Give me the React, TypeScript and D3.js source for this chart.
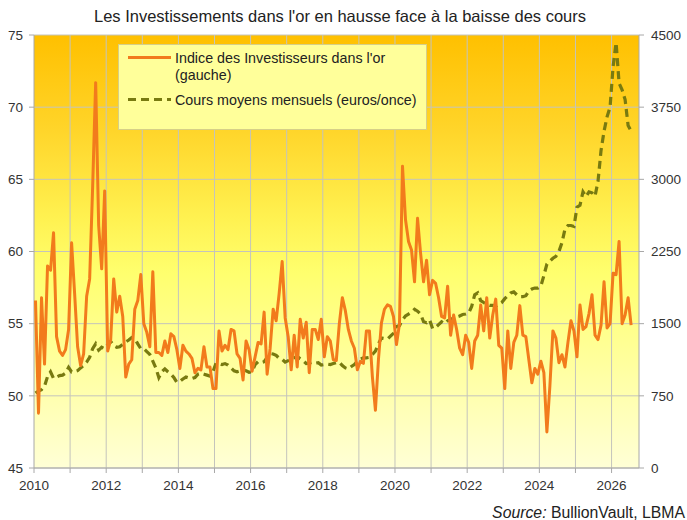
import { useEffect } from "react";
import * as d3 from "d3";

const width = 687;
const height = 520;
const margin = { top: 35, right: 48, bottom: 52, left: 34 };

// premier mois de la série : janvier 2010, un point par mois
const startYear = 2010;
const endYear = 2026.76;

// Indice des Investisseurs dans l'or (axe gauche)
const investorIndex = [
  56.6, 48.8, 56.8, 52.2, 59.0, 58.7, 61.3, 54.1, 53.1, 52.8, 53.2, 54.6,
  60.6, 57.1, 53.4, 52.1, 52.9, 56.9, 58.1, 64.5, 71.7, 61.8, 58.8, 64.2,
  53.1, 53.9, 58.1, 55.8, 56.9, 55.5, 51.3, 52.2, 52.5, 56.0, 56.6, 58.4,
  55.0, 54.4, 53.4, 58.6, 53.0, 53.0, 52.8, 53.8, 53.0, 54.3, 54.1, 53.2,
  51.9, 53.5, 53.1, 52.9, 52.6, 51.6, 51.9, 51.8, 53.4, 52.0, 52.0, 50.5,
  50.5, 54.5, 53.1, 53.5, 53.2, 54.6, 54.5, 52.9, 52.6, 51.1, 53.8, 53.2,
  51.7, 52.7, 53.7, 53.6, 55.8, 51.5, 53.3, 56.0, 55.2, 57.1, 59.3, 55.4,
  54.1, 51.8, 54.2, 52.0, 55.3, 54.0, 55.1, 51.6, 54.6, 54.6, 53.9, 55.3,
  52.7, 54.1, 53.8, 52.5, 52.45, 55.0, 56.8, 55.9, 54.6, 53.8, 53.3, 51.8,
  52.4, 52.25, 54.5, 54.5, 51.3, 49.0, 52.5, 55.05, 56.0, 56.3, 56.2, 55.5,
  53.55, 55.0, 65.9, 62.2, 60.7, 60.1, 57.9, 62.3, 59.9, 57.9, 59.4, 57.0,
  58.0, 57.8, 56.8, 55.5, 55.4, 57.6, 54.2, 55.6, 54.6, 53.3, 52.85, 54.2,
  53.7, 51.9, 53.8, 54.2, 56.3, 54.5, 56.8, 54.0, 55.6, 56.7, 53.5, 53.3,
  50.5, 54.5, 51.9, 53.7, 54.2, 56.25, 54.2, 54.1, 52.5, 50.9, 51.9, 51.5,
  52.4, 51.6, 47.5, 50.7, 54.5, 54.0, 52.3, 52.85, 52.0, 53.7, 55.2, 54.5,
  52.7, 56.3, 54.6, 54.8, 55.7, 57.0, 54.2, 53.9, 54.9, 57.9, 54.7, 55.0,
  58.5, 58.4, 60.7, 55.0, 55.6, 56.8, 54.9,
];

// Cours moyens mensuels en euros/once (axe droit)
const goldPriceEur = [
  779, 800, 815, 850, 950, 1000, 930, 945, 960, 965, 985, 1045,
  998, 1002, 1012, 1040, 1065, 1100, 1150, 1240, 1290, 1225, 1255, 1240,
  1280, 1315, 1270, 1255, 1260, 1285, 1310, 1330, 1355, 1345, 1290, 1240,
  1240, 1210, 1180, 1110, 1040, 940, 1000, 1030, 1000, 975, 940, 890,
  900, 925, 945, 935, 930, 940, 975, 985, 975, 965, 955, 1000,
  1090, 1085, 1075, 1085, 1070, 1040, 1010, 1000, 1010, 1020, 1010, 995,
  1000, 1075, 1105, 1095, 1105, 1150, 1190, 1185, 1170, 1140, 1130, 1100,
  1115, 1140, 1145, 1160, 1135, 1115, 1085, 1090, 1100, 1090, 1095, 1070,
  1075, 1080, 1075, 1085, 1095, 1100, 1065, 1040, 1030, 1055, 1075, 1110,
  1130, 1145, 1145, 1150, 1180, 1215, 1290, 1350, 1345, 1340, 1370, 1400,
  1470, 1480, 1540, 1580, 1600, 1620, 1650, 1630, 1600, 1520, 1510, 1540,
  1450, 1460, 1490, 1520, 1500, 1530, 1545, 1555, 1570, 1580, 1595, 1600,
  1610, 1680, 1800, 1820, 1740, 1720, 1700, 1690, 1690, 1680, 1700, 1720,
  1760, 1790, 1820, 1830, 1800, 1780, 1780, 1790, 1840, 1860, 1870, 1870,
  1890, 2000, 2120, 2150, 2180, 2200, 2250, 2340, 2480, 2520, 2520, 2510,
  2710, 2730, 2870, 2820, 2870, 2860, 2825, 2980, 3300, 3500, 3650, 3750,
  4170, 4420, 4000, 3930, 3830, 3560, 3500,
];

const leftTicks = [45, 50, 55, 60, 65, 70, 75];
const rightTicks = [0, 750, 1500, 2250, 3000, 3750, 4500];
const yearLabels = [2010, 2012, 2014, 2016, 2018, 2020, 2022, 2024, 2026];

const font = "'Liberation Sans', Arial, sans-serif";
const orange = "#f27b1c";
const olive = "#787a10";
const gridColor = "#c4c4bc";
const axisColor = "#a8a8a8";

// milieu du mois i
const monthPos = (i: number) => startYear + (i + 0.5) / 12;

export default function App() {
  useEffect(() => {
    document.body.style.margin = "0";
  }, []);

  const x = d3
    .scaleLinear()
    .domain([startYear, endYear])
    .range([margin.left, width - margin.right]);
  const yLeft = d3
    .scaleLinear()
    .domain([45, 75])
    .range([height - margin.bottom, margin.top]);
  const yRight = d3
    .scaleLinear()
    .domain([0, 4500])
    .range([height - margin.bottom, margin.top]);

  const x0 = margin.left;
  const x1 = width - margin.right;
  const y0 = height - margin.bottom;
  const y1 = margin.top;

  const yearGrid = d3.range(2011, Math.floor(endYear) + 1);

  const indexLine = d3
    .line<number>()
    .x((_, i) => x(monthPos(i)))
    .y((d) => yLeft(d));

  const goldLine = d3
    .line<number>()
    .x((_, i) => x(monthPos(i)))
    .y((d) => yRight(d));

  return (
    <svg
      width={width}
      height={height}
      style={{ display: "block", fontFamily: font }}
    >
      <defs>
        <linearGradient id="bg" x1="0" y1="0" x2="0" y2="1">
          <stop offset="0%" stopColor="#ffc000" />
          <stop offset="22%" stopColor="#ffd52a" />
          <stop offset="42%" stopColor="#fff150" />
          <stop offset="55%" stopColor="#ffff6e" />
          <stop offset="100%" stopColor="#ffffd6" />
        </linearGradient>
      </defs>

      <rect width={width} height={height} fill="#ffffff" />

      <text x={340} y={22} textAnchor="middle" fontSize={16.5} fill="#222">
        Les Investissements dans l'or en hausse face à la baisse des cours
      </text>

      <rect x={x0} y={y1} width={x1 - x0} height={y0 - y1} fill="url(#bg)" />

      {/* grille */}
      <g stroke={gridColor} strokeWidth={1}>
        {yearGrid.map((yr) => (
          <line key={yr} x1={x(yr)} x2={x(yr)} y1={y1} y2={y0} />
        ))}
        {leftTicks.map((t) => (
          <line key={t} x1={x0} x2={x1} y1={yLeft(t)} y2={yLeft(t)} />
        ))}
      </g>

      {/* axes */}
      <g stroke={axisColor} strokeWidth={1}>
        <line x1={x0} x2={x0} y1={y1} y2={y0} />
        <line x1={x1} x2={x1} y1={y1} y2={y0} />
        <line x1={x0} x2={x1} y1={y0} y2={y0} />
        {leftTicks.map((t) => (
          <line key={t} x1={x0 - 5} x2={x0} y1={yLeft(t)} y2={yLeft(t)} />
        ))}
        {rightTicks.map((t) => (
          <line key={t} x1={x1} x2={x1 + 5} y1={yRight(t)} y2={yRight(t)} />
        ))}
        {[startYear, ...yearGrid].map((yr) => (
          <line key={yr} x1={x(yr)} x2={x(yr)} y1={y0} y2={y0 + 5} />
        ))}
      </g>

      <g fontSize={13.5} fill="#333">
        {leftTicks.map((t) => (
          <text
            key={t}
            x={x0 - 11}
            y={yLeft(t)}
            dy="0.35em"
            textAnchor="end"
          >
            {t}
          </text>
        ))}
        {rightTicks.map((t) => (
          <text key={t} x={x1 + 12} y={yRight(t)} dy="0.35em">
            {t}
          </text>
        ))}
        {yearLabels.map((yr) => (
          <text key={yr} x={x(yr)} y={y0 + 22} textAnchor="middle">
            {yr}
          </text>
        ))}
      </g>

      {/* séries */}
      <path
        d={goldLine(goldPriceEur) ?? ""}
        fill="none"
        stroke={olive}
        strokeWidth={3.2}
        strokeDasharray="8,5"
      />
      <path
        d={indexLine(investorIndex) ?? ""}
        fill="none"
        stroke={orange}
        strokeWidth={3}
        strokeLinejoin="round"
      />

      {/* légende */}
      <g>
        <rect
          x={118.5}
          y={44.5}
          width={308}
          height={85}
          fill="#ffff9a"
          stroke="#d6cf88"
        />
        <line x1={128} x2={171} y1={57.5} y2={57.5} stroke={orange} strokeWidth={3} />
        <line
          x1={128}
          x2={171}
          y1={99.5}
          y2={99.5}
          stroke={olive}
          strokeWidth={3}
          strokeDasharray="8,5"
        />
        <g fontSize={14.3} fill="#222">
          <text x={175} y={62.5}>
            Indice des Investisseurs dans l'or
          </text>
          <text x={175} y={79.5}>
            (gauche)
          </text>
          <text x={175} y={104.5}>
            Cours moyens mensuels (euros/once)
          </text>
        </g>
      </g>

      <text x={685} y={518} textAnchor="end" fontSize={15.8} fill="#222">
        <tspan fontStyle="italic">Source:</tspan> BullionVault, LBMA
      </text>
    </svg>
  );
}
